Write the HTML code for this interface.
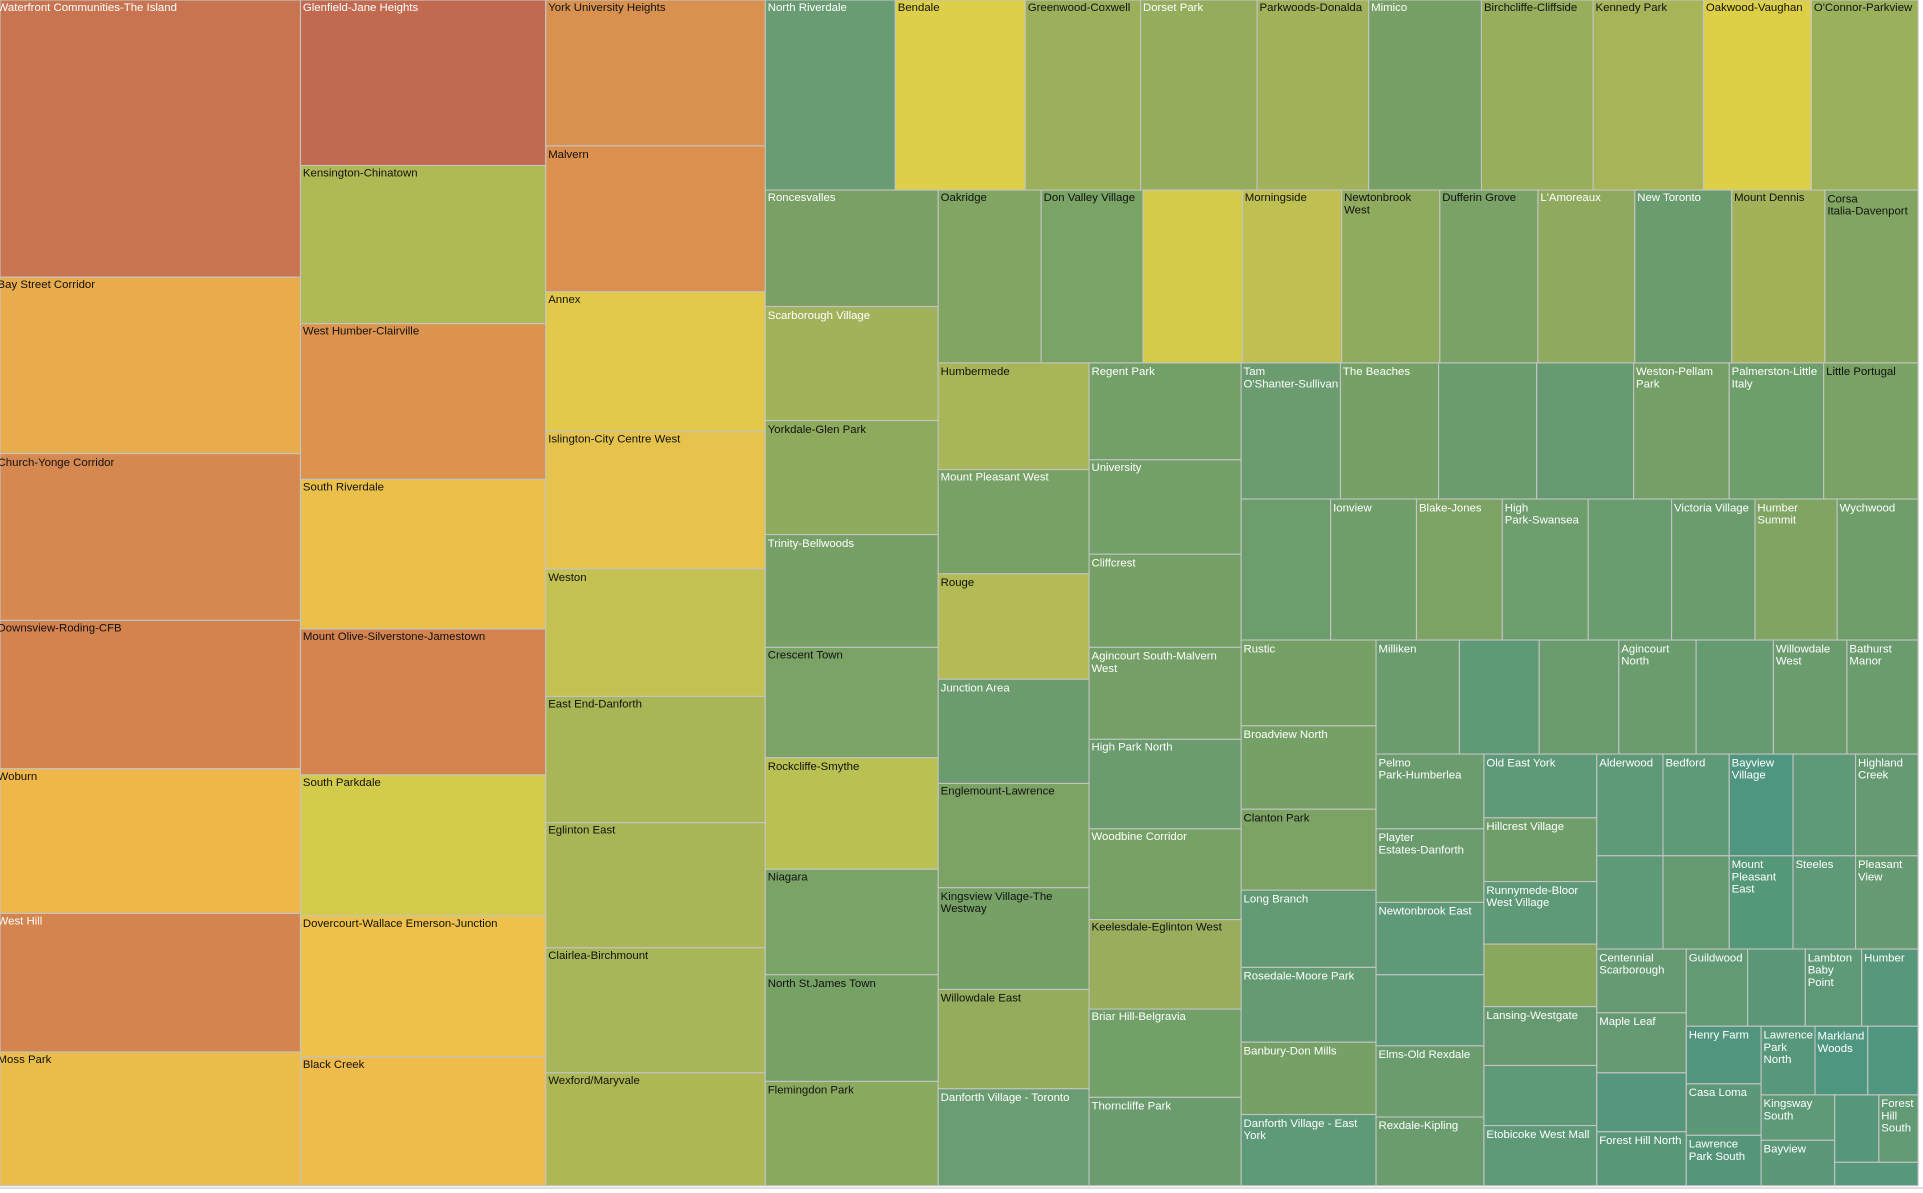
<!DOCTYPE html>
<html><head><meta charset="utf-8"><style>
html,body{margin:0;padding:0;background:#fff;}
svg{display:block}
text{font-family:"Liberation Sans",Arial,sans-serif;font-size:9.3px;}
.w{fill:#fff}.b{fill:#111}
rect{stroke:#c4c4c4;stroke-width:0.9}
</style></head><body>
<svg width="1923" height="1193" viewBox="0 0 1568 973" preserveAspectRatio="none">
<rect x="0" y="0" width="1568" height="973" fill="#fff" style="stroke:none"/>
<line x1="0" y1="969" x2="1568" y2="969" stroke="#ddd" stroke-width="1.5"/>
<!-- col1 -->
<rect x="0" y="0" width="245" height="226" fill="#c87450"/><text x="-2" y="9" class="w">Waterfront Communities-The Island</text>
<rect x="0" y="226" width="245" height="144" fill="#e9ac4c"/><text x="-2" y="235" class="b">Bay Street Corridor</text>
<rect x="0" y="370" width="245" height="136" fill="#d58850"/><text x="-2" y="380" class="b">Church-Yonge Corridor</text>
<rect x="0" y="506" width="245" height="121" fill="#d4834f"/><text x="-2" y="515" class="b">Downsview-Roding-CFB</text>
<rect x="0" y="627" width="245" height="118" fill="#efb64a"/><text x="-2" y="636" class="b">Woburn</text>
<rect x="0" y="745" width="245" height="113" fill="#d4854f"/><text x="-2" y="754" class="w">West Hill</text>
<rect x="0" y="858" width="245" height="109" fill="#eabd4a"/><text x="-2" y="867" class="b">Moss Park</text>
<!-- col2 -->
<rect x="245" y="0" width="200" height="135" fill="#c26a4f"/><text x="247" y="9" class="w">Glenfield-Jane Heights</text>
<rect x="245" y="135" width="200" height="129" fill="#afba55"/><text x="247" y="144" class="b">Kensington-Chinatown</text>
<rect x="245" y="264" width="200" height="127" fill="#dc934e"/><text x="247" y="273" class="b">West Humber-Clairville</text>
<rect x="245" y="391" width="200" height="122" fill="#eac04a"/><text x="247" y="400" class="b">South Riverdale</text>
<rect x="245" y="513" width="200" height="119" fill="#d5844f"/><text x="247" y="522" class="b">Mount Olive-Silverstone-Jamestown</text>
<rect x="245" y="632" width="200" height="115" fill="#d3cb4a"/><text x="247" y="641" class="b">South Parkdale</text>
<rect x="245" y="747" width="200" height="115" fill="#eec14a"/><text x="247" y="756" class="b">Dovercourt-Wallace Emerson-Junction</text>
<rect x="245" y="862" width="200" height="105" fill="#efbb4a"/><text x="247" y="871" class="b">Black Creek</text>
<!-- col3 -->
<rect x="445" y="0" width="179" height="119" fill="#d8914e"/><text x="447" y="9" class="b">York University Heights</text>
<rect x="445" y="119" width="179" height="119" fill="#dc904e"/><text x="447" y="129" class="b">Malvern</text>
<rect x="445" y="238" width="179" height="114" fill="#e2c94a"/><text x="447" y="247" class="b">Annex</text>
<rect x="445" y="352" width="179" height="112" fill="#e5c34c"/><text x="447" y="361" class="b">Islington-City Centre West</text>
<rect x="445" y="464" width="179" height="104" fill="#c2c152"/><text x="447" y="474" class="b">Weston</text>
<rect x="445" y="568" width="179" height="103" fill="#aab556"/><text x="447" y="577" class="b">East End-Danforth</text>
<rect x="445" y="671" width="179" height="102" fill="#aab556"/><text x="447" y="680" class="b">Eglinton East</text>
<rect x="445" y="773" width="179" height="102" fill="#a7b658"/><text x="447" y="782" class="b">Clairlea-Birchmount</text>
<rect x="445" y="875" width="179" height="92" fill="#adb855"/><text x="447" y="884" class="b">Wexford/Maryvale</text>
<!-- top row -->
<rect x="624" y="0" width="106" height="155" fill="#6a9c73"/><text x="626" y="9" class="w">North Riverdale</text>
<rect x="730" y="0" width="106" height="155" fill="#ddcf4a"/><text x="732" y="9" class="b">Bendale</text>
<rect x="836" y="0" width="94" height="155" fill="#9caf5b"/><text x="838" y="9" class="b">Greenwood-Coxwell</text>
<rect x="930" y="0" width="95" height="155" fill="#93ad5c"/><text x="932" y="9" class="w">Dorset Park</text>
<rect x="1025" y="0" width="91" height="155" fill="#a2b25a"/><text x="1027" y="9" class="b">Parkwoods-Donalda</text>
<rect x="1116" y="0" width="92" height="155" fill="#76a066"/><text x="1118" y="9" class="w">Mimico</text>
<rect x="1208" y="0" width="91" height="155" fill="#97ae5c"/><text x="1210" y="9" class="b">Birchcliffe-Cliffside</text>
<rect x="1299" y="0" width="90" height="155" fill="#a7b457"/><text x="1301" y="9" class="b">Kennedy Park</text>
<rect x="1389" y="0" width="88" height="155" fill="#ddcf46"/><text x="1391" y="9" class="b">Oakwood-Vaughan</text>
<rect x="1477" y="0" width="87" height="155" fill="#9bb05a"/><text x="1479" y="9" class="b">O'Connor-Parkview</text>
<!-- col4 -->
<rect x="624" y="155" width="141" height="95" fill="#7aa066"/><text x="626" y="164" class="w">Roncesvalles</text>
<rect x="624" y="250" width="141" height="93" fill="#a0b35a"/><text x="626" y="260" class="w">Scarborough Village</text>
<rect x="624" y="343" width="141" height="93" fill="#8eab5d"/><text x="626" y="353" class="b">Yorkdale-Glen Park</text>
<rect x="624" y="436" width="141" height="92" fill="#76a066"/><text x="626" y="446" class="w">Trinity-Bellwoods</text>
<rect x="624" y="528" width="141" height="90" fill="#7aa365"/><text x="626" y="537" class="b">Crescent Town</text>
<rect x="624" y="618" width="141" height="91" fill="#bac153"/><text x="626" y="628" class="b">Rockcliffe-Smythe</text>
<rect x="624" y="709" width="141" height="86" fill="#7aa366"/><text x="626" y="718" class="b">Niagara</text>
<rect x="624" y="795" width="141" height="87" fill="#77a266"/><text x="626" y="805" class="b">North St.James Town</text>
<rect x="624" y="882" width="141" height="85" fill="#8aab5f"/><text x="626" y="892" class="b">Flemingdon Park</text>
<!-- row 155-296 -->
<rect x="765" y="155" width="84" height="141" fill="#81a562"/><text x="767" y="164" class="b">Oakridge</text>
<rect x="849" y="155" width="83" height="141" fill="#7aa366"/><text x="851" y="164" class="b">Don Valley Village</text>
<rect x="932" y="155" width="81" height="141" fill="#d4cb4b"/>
<rect x="1013" y="155" width="81" height="141" fill="#c0c052"/><text x="1015" y="164" class="b">Morningside</text>
<rect x="1094" y="155" width="80" height="141" fill="#8fab5e"/><text x="1096" y="164" class="b"><tspan x="1096">Newtonbrook</tspan><tspan x="1096" dy="10">West</tspan></text>
<rect x="1174" y="155" width="80" height="141" fill="#7aa266"/><text x="1176" y="164" class="b">Dufferin Grove</text>
<rect x="1254" y="155" width="79" height="141" fill="#8faa5e"/><text x="1256" y="164" class="w">L'Amoreaux</text>
<rect x="1333" y="155" width="79" height="141" fill="#6a9c6e"/><text x="1335" y="164" class="w">New Toronto</text>
<rect x="1412" y="155" width="76" height="141" fill="#a3b259"/><text x="1414" y="164" class="b">Mount Dennis</text>
<rect x="1488" y="155" width="76" height="141" fill="#82a662"/><text x="1490" y="165" class="b"><tspan x="1490">Corsa</tspan><tspan x="1490" dy="10">Italia-Davenport</tspan></text>
<!-- col5 -->
<rect x="765" y="296" width="123" height="87" fill="#a9b657"/><text x="767" y="306" class="b">Humbermede</text>
<rect x="765" y="383" width="123" height="85" fill="#78a265"/><text x="767" y="392" class="w">Mount Pleasant West</text>
<rect x="765" y="468" width="123" height="86" fill="#b4bb54"/><text x="767" y="478" class="b">Rouge</text>
<rect x="765" y="554" width="123" height="85" fill="#6a9c6e"/><text x="767" y="564" class="w">Junction Area</text>
<rect x="765" y="639" width="123" height="85" fill="#7ca264"/><text x="767" y="648" class="b">Englemount-Lawrence</text>
<rect x="765" y="724" width="123" height="83" fill="#76a166"/><text x="767" y="734" class="b"><tspan x="767">Kingsview Village-The</tspan><tspan x="767" dy="10">Westway</tspan></text>
<rect x="765" y="807" width="123" height="81" fill="#93ad5c"/><text x="767" y="817" class="b">Willowdale East</text>
<rect x="765" y="888" width="123" height="79" fill="#6a9d72"/><text x="767" y="898" class="w">Danforth Village - Toronto</text>
<!-- col6 -->
<rect x="888" y="296" width="124" height="79" fill="#72a068"/><text x="890" y="306" class="w">Regent Park</text>
<rect x="888" y="375" width="124" height="77" fill="#72a068"/><text x="890" y="384" class="w">University</text>
<rect x="888" y="452" width="124" height="76" fill="#76a166"/><text x="890" y="462" class="w">Cliffcrest</text>
<rect x="888" y="528" width="124" height="75" fill="#74a067"/><text x="890" y="538" class="w"><tspan x="890">Agincourt South-Malvern</tspan><tspan x="890" dy="10">West</tspan></text>
<rect x="888" y="603" width="124" height="73" fill="#6a9c6e"/><text x="890" y="612" class="w">High Park North</text>
<rect x="888" y="676" width="124" height="74" fill="#76a266"/><text x="890" y="685" class="w">Woodbine Corridor</text>
<rect x="888" y="750" width="124" height="73" fill="#99ad5c"/><text x="890" y="759" class="b">Keelesdale-Eglinton West</text>
<rect x="888" y="823" width="124" height="72" fill="#72a069"/><text x="890" y="832" class="w">Briar Hill-Belgravia</text>
<rect x="888" y="895" width="124" height="72" fill="#6a9c6e"/><text x="890" y="905" class="w">Thorncliffe Park</text>
<!-- row 296-407 -->
<rect x="1012" y="296" width="81" height="111" fill="#6a9c70"/><text x="1014" y="306" class="w"><tspan x="1014">Tam</tspan><tspan x="1014" dy="10">O'Shanter-Sullivan</tspan></text>
<rect x="1093" y="296" width="80" height="111" fill="#76a166"/><text x="1095" y="306" class="w">The Beaches</text>
<rect x="1173" y="296" width="80" height="111" fill="#6a9c6e"/>
<rect x="1253" y="296" width="79" height="111" fill="#659a70"/>
<rect x="1332" y="296" width="78" height="111" fill="#74a068"/><text x="1334" y="306" class="w"><tspan x="1334">Weston-Pellam</tspan><tspan x="1334" dy="10">Park</tspan></text>
<rect x="1410" y="296" width="77" height="111" fill="#6e9e6a"/><text x="1412" y="306" class="w"><tspan x="1412">Palmerston-Little</tspan><tspan x="1412" dy="10">Italy</tspan></text>
<rect x="1487" y="296" width="77" height="111" fill="#7aa264"/><text x="1489" y="306" class="b">Little Portugal</text>
<!-- row 407-522 -->
<rect x="1012" y="407" width="73" height="115" fill="#6d9d6c"/>
<rect x="1085" y="407" width="70" height="115" fill="#6f9e6a"/><text x="1087" y="417" class="w">Ionview</text>
<rect x="1155" y="407" width="70" height="115" fill="#7ca264"/><text x="1157" y="417" class="w">Blake-Jones</text>
<rect x="1225" y="407" width="70" height="115" fill="#6d9e6c"/><text x="1227" y="417" class="w"><tspan x="1227">High</tspan><tspan x="1227" dy="10">Park-Swansea</tspan></text>
<rect x="1295" y="407" width="68" height="115" fill="#699c6e"/>
<rect x="1363" y="407" width="68" height="115" fill="#6a9c6e"/><text x="1365" y="417" class="w">Victoria Village</text>
<rect x="1431" y="407" width="67" height="115" fill="#80a462"/><text x="1433" y="417" class="w"><tspan x="1433">Humber</tspan><tspan x="1433" dy="10">Summit</tspan></text>
<rect x="1498" y="407" width="66" height="115" fill="#6f9e6a"/><text x="1500" y="417" class="w">Wychwood</text>
<!-- col 1012-1122 -->
<rect x="1012" y="522" width="110" height="70" fill="#76a166"/><text x="1014" y="532" class="w">Rustic</text>
<rect x="1012" y="592" width="110" height="68" fill="#76a166"/><text x="1014" y="602" class="w">Broadview North</text>
<rect x="1012" y="660" width="110" height="66" fill="#7ca264"/><text x="1014" y="670" class="b">Clanton Park</text>
<rect x="1012" y="726" width="110" height="63" fill="#619a74"/><text x="1014" y="736" class="w">Long Branch</text>
<rect x="1012" y="789" width="110" height="61" fill="#649b72"/><text x="1014" y="799" class="w">Rosedale-Moore Park</text>
<rect x="1012" y="850" width="110" height="59" fill="#76a166"/><text x="1014" y="860" class="w">Banbury-Don Mills</text>
<rect x="1012" y="909" width="110" height="58" fill="#5e9978"/><text x="1014" y="919" class="w"><tspan x="1014">Danforth Village - East</tspan><tspan x="1014" dy="10">York</tspan></text>
<!-- row 522-615 -->
<rect x="1122" y="522" width="68" height="93" fill="#6a9c6e"/><text x="1124" y="532" class="w">Milliken</text>
<rect x="1190" y="522" width="65" height="93" fill="#5f9a76"/>
<rect x="1255" y="522" width="65" height="93" fill="#6a9c6e"/>
<rect x="1320" y="522" width="63" height="93" fill="#6a9c6e"/><text x="1322" y="532" class="w"><tspan x="1322">Agincourt</tspan><tspan x="1322" dy="10">North</tspan></text>
<rect x="1383" y="522" width="63" height="93" fill="#659b70"/>
<rect x="1446" y="522" width="60" height="93" fill="#6a9c6e"/><text x="1448" y="532" class="w"><tspan x="1448">Willowdale</tspan><tspan x="1448" dy="10">West</tspan></text>
<rect x="1506" y="522" width="58" height="93" fill="#6a9c6e"/><text x="1508" y="532" class="w"><tspan x="1508">Bathurst</tspan><tspan x="1508" dy="10">Manor</tspan></text>
<!-- col 1122-1210 -->
<rect x="1122" y="615" width="88" height="61" fill="#6a9c6e"/><text x="1124" y="625" class="w"><tspan x="1124">Pelmo</tspan><tspan x="1124" dy="10">Park-Humberlea</tspan></text>
<rect x="1122" y="676" width="88" height="60" fill="#6a9c6e"/><text x="1124" y="686" class="w"><tspan x="1124">Playter</tspan><tspan x="1124" dy="10">Estates-Danforth</tspan></text>
<rect x="1122" y="736" width="88" height="59" fill="#5e9978"/><text x="1124" y="746" class="w">Newtonbrook East</text>
<rect x="1122" y="795" width="88" height="58" fill="#5e9978"/>
<rect x="1122" y="853" width="88" height="58" fill="#6a9c6e"/><text x="1124" y="863" class="w">Elms-Old Rexdale</text>
<rect x="1122" y="911" width="88" height="56" fill="#6a9c6e"/><text x="1124" y="921" class="w">Rexdale-Kipling</text>
<!-- col 1210-1302 -->
<rect x="1210" y="615" width="92" height="52" fill="#5e9978"/><text x="1212" y="625" class="w">Old East York</text>
<rect x="1210" y="667" width="92" height="52" fill="#6f9e6a"/><text x="1212" y="677" class="w">Hillcrest Village</text>
<rect x="1210" y="719" width="92" height="51" fill="#5e9978"/><text x="1212" y="729" class="w"><tspan x="1212">Runnymede-Bloor</tspan><tspan x="1212" dy="10">West Village</tspan></text>
<rect x="1210" y="770" width="92" height="51" fill="#8aa85d"/>
<rect x="1210" y="821" width="92" height="48" fill="#66996f"/><text x="1212" y="831" class="w">Lansing-Westgate</text>
<rect x="1210" y="869" width="92" height="49" fill="#5e9978"/>
<rect x="1210" y="918" width="92" height="49" fill="#5e9978"/><text x="1212" y="928" class="w">Etobicoke West Mall</text>
<!-- 1302-1564, 615-774 -->
<rect x="1302" y="615" width="54" height="83" fill="#5e9978"/><text x="1304" y="625" class="w">Alderwood</text>
<rect x="1356" y="615" width="54" height="83" fill="#5e9978"/><text x="1358" y="625" class="w">Bedford</text>
<rect x="1410" y="615" width="52" height="83" fill="#4f9680"/><text x="1412" y="625" class="w"><tspan x="1412">Bayview</tspan><tspan x="1412" dy="10">Village</tspan></text>
<rect x="1462" y="615" width="51" height="83" fill="#5e9978"/>
<rect x="1513" y="615" width="51" height="83" fill="#659a72"/><text x="1515" y="625" class="w"><tspan x="1515">Highland</tspan><tspan x="1515" dy="10">Creek</tspan></text>
<rect x="1302" y="698" width="54" height="76" fill="#5e9978"/>
<rect x="1356" y="698" width="54" height="76" fill="#659a70"/>
<rect x="1410" y="698" width="52" height="76" fill="#549779"/><text x="1412" y="708" class="w"><tspan x="1412">Mount</tspan><tspan x="1412" dy="10">Pleasant</tspan><tspan x="1412" dy="10">East</tspan></text>
<rect x="1462" y="698" width="51" height="76" fill="#5e9978"/><text x="1464" y="708" class="w">Steeles</text>
<rect x="1513" y="698" width="51" height="76" fill="#659a72"/><text x="1515" y="708" class="w"><tspan x="1515">Pleasant</tspan><tspan x="1515" dy="10">View</tspan></text>
<!-- bottom right -->
<rect x="1302" y="774" width="73" height="52" fill="#659a72"/><text x="1304" y="784" class="w"><tspan x="1304">Centennial</tspan><tspan x="1304" dy="10">Scarborough</tspan></text>
<rect x="1302" y="826" width="73" height="49" fill="#659a72"/><text x="1304" y="836" class="w">Maple Leaf</text>
<rect x="1302" y="875" width="73" height="48" fill="#56967c"/>
<rect x="1302" y="923" width="73" height="44" fill="#589879"/><text x="1304" y="933" class="w">Forest Hill North</text>
<rect x="1375" y="774" width="50" height="63" fill="#619a74"/><text x="1377" y="784" class="w">Guildwood</text>
<rect x="1425" y="774" width="47" height="63" fill="#5a9877"/>
<rect x="1472" y="774" width="46" height="63" fill="#5e9978"/><text x="1474" y="784" class="w"><tspan x="1474">Lambton</tspan><tspan x="1474" dy="10">Baby</tspan><tspan x="1474" dy="10">Point</tspan></text>
<rect x="1518" y="774" width="46" height="63" fill="#57977b"/><text x="1520" y="784" class="w">Humber</text>
<rect x="1375" y="837" width="61" height="47" fill="#51957f"/><text x="1377" y="847" class="w">Henry Farm</text>
<rect x="1375" y="884" width="61" height="42" fill="#5a9877"/><text x="1377" y="894" class="w">Casa Loma</text>
<rect x="1375" y="926" width="61" height="41" fill="#55967b"/><text x="1377" y="936" class="w"><tspan x="1377">Lawrence</tspan><tspan x="1377" dy="10">Park South</tspan></text>
<rect x="1436" y="837" width="44" height="56" fill="#57977b"/><text x="1438" y="847" class="w"><tspan x="1438">Lawrence</tspan><tspan x="1438" dy="10">Park</tspan><tspan x="1438" dy="10">North</tspan></text>
<rect x="1480" y="837" width="43" height="56" fill="#4f9680"/><text x="1482" y="848" class="w"><tspan x="1482">Markland</tspan><tspan x="1482" dy="10">Woods</tspan></text>
<rect x="1523" y="837" width="41" height="56" fill="#50967f"/>
<rect x="1436" y="893" width="60" height="37" fill="#5e9978"/><text x="1438" y="903" class="w"><tspan x="1438">Kingsway</tspan><tspan x="1438" dy="10">South</tspan></text>
<rect x="1436" y="930" width="60" height="37" fill="#5a9877"/><text x="1438" y="940" class="w">Bayview</text>
<rect x="1496" y="893" width="36" height="55" fill="#56977b"/>
<rect x="1532" y="893" width="32" height="55" fill="#619a74"/><text x="1534" y="903" class="w"><tspan x="1534">Forest</tspan><tspan x="1534" dy="10">Hill</tspan><tspan x="1534" dy="10">South</tspan></text>
<rect x="1496" y="948" width="68" height="19" fill="#57977b"/>
</svg>
</body></html>
